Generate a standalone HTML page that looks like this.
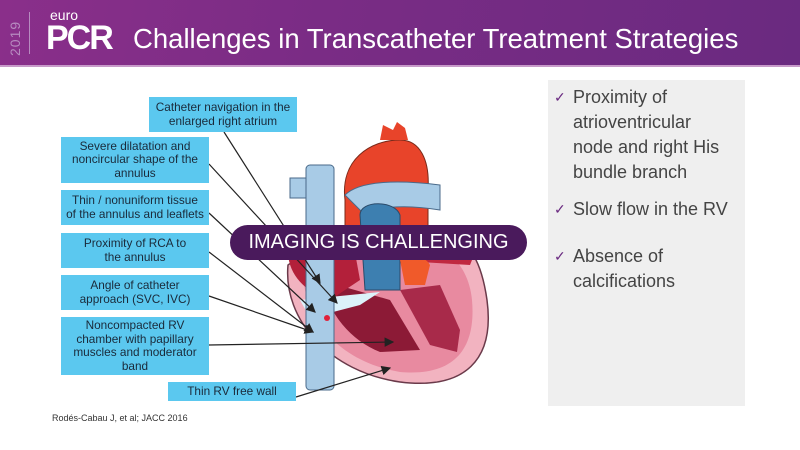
<!DOCTYPE html>
<html><head><meta charset="utf-8"><style>
body{margin:0;width:800px;height:450px;overflow:hidden;background:#fff;font-family:"Liberation Sans",sans-serif;position:relative}
.hdr{position:absolute;left:0;top:0;width:800px;height:65px;background:linear-gradient(100deg,#8a2f8a 0%,#7a2c85 40%,#6a2a80 100%);border-bottom:2px solid #c79ac9}
.box{position:absolute;background:#5bc8ef;color:#1a2a3a;font-size:11.8px;line-height:13.5px;text-align:center;display:flex;align-items:center;justify-content:center;white-space:nowrap}
.panel{position:absolute;left:548px;top:80px;width:197px;height:326px;background:#efefef}
.panel p{margin:0;position:absolute;left:25px;font-size:18px;line-height:25px;color:#444;white-space:nowrap}
.panel span{position:absolute;left:-19px;color:#6a2a80;font-size:14px}
</style></head><body>
<div class="hdr">
<div style="position:absolute;left:7px;top:10px;width:16px;height:46px;color:#b78bc0;font-size:14px;writing-mode:vertical-rl;transform:rotate(180deg);letter-spacing:1px">2019</div>
<div style="position:absolute;left:29px;top:12px;width:1px;height:42px;background:#b78bc0"></div>
<div style="position:absolute;left:50px;top:7px;color:#fff;font-size:14px">euro</div>
<div style="position:absolute;left:46px;top:19px;color:#fff;font-size:34px;font-weight:bold;letter-spacing:-2px">PCR</div>
<div style="position:absolute;left:133px;top:23px;color:#fff;font-size:27.5px;white-space:nowrap">Challenges in Transcatheter Treatment Strategies</div>
</div>
<svg style="position:absolute;left:0;top:0" width="800" height="450">
<defs><marker id="a" markerWidth="8" markerHeight="8" refX="7" refY="4" orient="auto"><path d="M0,0L8,4L0,8z" fill="#222"/></marker></defs>
<path d="M288,265 C283,320 330,372 400,382 C465,390 495,360 487,300 C482,265 472,240 440,230 L330,235 Z" fill="#f2b3c0" stroke="#6a3a4a" stroke-width="1.5"/>
<path d="M303,270 C303,320 340,362 400,372 C458,377 476,345 472,300 C469,270 452,250 430,245 L330,250 Z" fill="#e88aa0"/>
<path d="M320,280 L390,300 L420,350 L380,352 C350,340 330,315 320,280Z" fill="#8c1a36"/>
<path d="M400,290 L440,285 L460,330 L457,352 L430,345Z" fill="#a82a4a"/>
<path d="M288,245 C286,270 300,290 330,300 L360,280 L350,225 L300,225 Z" fill="#b3203a"/>
<path d="M300,300 L380,292 L360,305 L310,318Z" fill="#dcf2fa"/>
<rect x="306" y="165" width="28" height="225" rx="4" fill="#a8cbe6" stroke="#4a6a8a"/>
<path d="M290,178 L306,178 L306,198 L290,198 Z" fill="#a8cbe6" stroke="#4a6a8a"/>
<path d="M345,200 C340,160 370,140 400,140 C420,140 430,160 428,190 L428,240 L345,240Z" fill="#e8442a" stroke="#7a2a1a"/>
<path d="M380,140 L383,125 L393,130 L397,122 L405,128 L408,140Z" fill="#e8442a"/>
<path d="M345,195 C360,180 400,180 440,185 L440,210 C410,205 380,205 365,215Z" fill="#a8cbe6" stroke="#4a6a8a"/>
<path d="M360,215 C360,200 395,200 400,215 L400,290 L365,290Z" fill="#3d7fb0" stroke="#2a4a6a"/>
<path d="M410,240 L480,240 L470,265 L420,262Z" fill="#c02840"/>
<path d="M400,260 C410,255 425,255 430,265 L425,285 L405,285Z" fill="#f05a2a"/>
<circle cx="327" cy="318" r="3" fill="#e0203a"/>
<g stroke="#222" stroke-width="1.2" fill="none" marker-end="url(#a)">
<line x1="224" y1="132" x2="320" y2="283"/>
<line x1="209" y1="164" x2="337" y2="303"/>
<line x1="209" y1="213" x2="315" y2="312"/>
<line x1="209" y1="252" x2="313" y2="332"/>
<line x1="209" y1="296" x2="313" y2="332"/>
<line x1="209" y1="345" x2="393" y2="342"/>
<line x1="296" y1="397" x2="390" y2="368"/>
</g>
</svg>
<div class="box" style="left:149px;top:97px;width:148px;height:35px">Catheter navigation in the<br>enlarged right atrium</div>
<div class="box" style="left:61px;top:137px;width:148px;height:46px">Severe dilatation and<br>noncircular shape of the<br>annulus</div>
<div class="box" style="left:61px;top:190px;width:148px;height:35px">Thin / nonuniform tissue<br>of the annulus and leaflets</div>
<div class="box" style="left:61px;top:233px;width:148px;height:35px">Proximity of RCA to<br>the annulus</div>
<div class="box" style="left:61px;top:275px;width:148px;height:35px">Angle of catheter<br>approach (SVC, IVC)</div>
<div class="box" style="left:61px;top:317px;width:148px;height:58px">Noncompacted RV<br>chamber with papillary<br>muscles and moderator<br>band</div>
<div class="box" style="left:168px;top:382px;width:128px;height:19px">Thin RV free wall</div>
<div style="position:absolute;left:230px;top:225px;width:297px;height:35px;border-radius:18px;background:#4a1a5c;color:#fff;font-size:20px;line-height:35px;text-align:center">IMAGING IS CHALLENGING</div>
<div style="position:absolute;left:52px;top:413px;font-size:9px;color:#333">Rodés-Cabau J, et al; JACC 2016</div>
<div class="panel">
<p style="top:5px"><span>✓</span>Proximity of<br>atrioventricular<br>node and right His<br>bundle branch</p>
<p style="top:117px"><span>✓</span>Slow flow in the RV</p>
<p style="top:164px"><span>✓</span>Absence of<br>calcifications</p>
</div>
</body></html>
